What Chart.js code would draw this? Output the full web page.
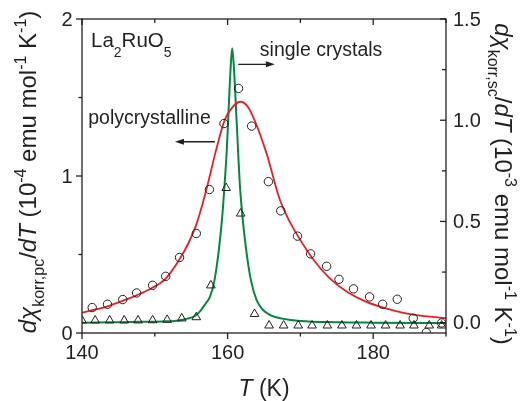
<!DOCTYPE html>
<html><head><meta charset="utf-8">
<script src="https://cdn.jsdelivr.net/npm/chart.js@4/dist/chart.umd.min.js"></script>
<style>html,body{margin:0;padding:0;background:#fff}#wrap{width:523px;height:401px}</style>
</head><body><div id="wrap"><canvas id="c" width="523" height="401"></canvas></div>
<script>
// ---- data ----
// polycrystalline (circles, left axis, 10^-4 emu mol^-1 K^-1)
const polyT = [141.4, 143.5, 145.6, 147.5, 149.7, 151.5, 153.4, 155.7, 157.5, 159.5, 161.5, 163.3, 165.6, 167.3, 169.6, 171.4, 173.6, 175.3, 177.3, 179.5, 181.3, 183.3, 185.5, 187.3, 189.4];
const polyV = [0.162, 0.183, 0.213, 0.255, 0.304, 0.361, 0.481, 0.634, 0.914, 1.334, 1.558, 1.318, 0.964, 0.778, 0.617, 0.504, 0.425, 0.342, 0.281, 0.230, 0.183, 0.215, 0.094, 0.003, 0.064];
// single crystals (triangles, right axis, 10^-3 emu mol^-1 K^-1)
const scT = [140.0, 141.8, 143.8, 145.8, 147.7, 149.7, 151.7, 153.7, 155.7, 157.7, 159.8, 161.8, 163.7, 165.7, 167.7, 169.7, 171.6, 173.7, 175.7, 177.7, 179.7, 181.7, 183.7, 185.6, 187.7, 189.4];
const scV = [0.011, 0.011, 0.011, 0.011, 0.011, 0.012, 0.014, 0.021, 0.027, 0.184, 0.665, 0.539, 0.043, -0.014, -0.014, -0.014, -0.014, -0.014, -0.014, -0.014, -0.014, -0.014, -0.014, -0.014, -0.014, -0.014];
// red fit curve (left axis)
const redT = [140, 141.4, 143.5, 145.6, 147.5, 149.6, 151.5, 153.4, 154.6, 155.7, 156.7, 157.5, 158.3, 159.6, 160.7, 161.8, 162.8, 163.7, 165.35, 167.1, 168.2, 169.5, 171.75, 174, 176.5, 179, 181.5, 184, 186.5, 190];
const redV = [0.13, 0.145, 0.17, 0.205, 0.24, 0.287, 0.347, 0.47, 0.57, 0.69, 0.846, 0.99, 1.144, 1.356, 1.44, 1.473, 1.44, 1.356, 1.144, 0.86, 0.74, 0.63, 0.47, 0.35, 0.26, 0.20, 0.16, 0.13, 0.11, 0.095];
// green fit curve (right axis)
const greenT = [140, 144, 148, 151, 153, 154.5, 155.5, 156.3, 156.9, 157.6, 158.2, 158.8, 159.3, 159.6, 159.9, 160.2, 160.45, 160.63, 160.85, 161.1, 161.45, 161.65, 162.0, 162.5, 163.2, 164.0, 164.8, 166.0, 167.5, 170, 175, 180, 190];
const greenV = [0.0, 0.002, 0.004, 0.006, 0.01, 0.02, 0.033, 0.06, 0.09, 0.13, 0.21, 0.36, 0.54, 0.69, 0.86, 1.10, 1.28, 1.355, 1.27, 1.10, 0.84, 0.70, 0.54, 0.375, 0.21, 0.11, 0.065, 0.035, 0.02, 0.008, 0.002, 0.0, -0.002];
// ticks
const xTicks = [140, 160, 180];
const xMinor = [150, 170, 190];
const leftTicks = [0, 1, 2];
const leftMinor = [0.5, 1.5];
const rightTicks = [0.0, 0.5, 1.0, 1.5];
const rightMinor = [0.25, 0.75, 1.25];

const INK = '#231f20';
const FAM = '"Liberation Sans", Arial, Helvetica, sans-serif';
const pts = (xs, ys) => xs.map((x, i) => ({x: x, y: ys[i]}));

function drawRich(ctx, segs, x, y, rot, align, st) {
  ctx.save();
  ctx.translate(x, y);
  ctx.rotate(rot);
  ctx.fillStyle = INK;
  ctx.textBaseline = 'alphabetic';
  ctx.textAlign = 'left';
  const fontFor = s => (s.i ? 'italic ' : '') + ((s.sub || s.sup) ? st.small : st.size) + 'px ' + FAM;
  let total = 0;
  segs.forEach(s => { ctx.font = fontFor(s); s.w = ctx.measureText(s.t).width; total += s.w; });
  let cx = align === 'center' ? -total / 2 : 0;
  segs.forEach(s => {
    ctx.font = fontFor(s);
    const dy = s.sub ? st.subShift : (s.sup ? -st.supShift : 0);
    ctx.fillText(s.t, cx, dy);
    cx += s.w;
  });
  ctx.restore();
}

function arrow(ctx, x1, y1, x2, y2) {
  ctx.save();
  ctx.strokeStyle = INK; ctx.fillStyle = INK; ctx.lineWidth = 1.3;
  const dir = Math.sign(x2 - x1);
  ctx.beginPath(); ctx.moveTo(x1, y1); ctx.lineTo(x2 - dir * 6, y2); ctx.stroke();
  ctx.beginPath(); ctx.moveTo(x2, y2); ctx.lineTo(x2 - dir * 9, y2 - 3); ctx.lineTo(x2 - dir * 9, y2 + 3); ctx.closePath(); ctx.fill();
  ctx.restore();
}

const decor = {
  id: 'decor',
  afterDraw(chart, args, o) {
    const {ctx, chartArea: a, scales} = chart;
    const sx = scales.x, yl = scales.yL, yr = scales.yR;
    ctx.save();
    ctx.strokeStyle = INK; ctx.lineWidth = 1.3;
    ctx.strokeRect(a.left, a.top, a.right - a.left, a.bottom - a.top);
    const seg = (x1, y1, x2, y2) => { ctx.beginPath(); ctx.moveTo(x1, y1); ctx.lineTo(x2, y2); ctx.stroke(); };
    xTicks.forEach(v => { const p = sx.getPixelForValue(v); seg(p, a.bottom, p, a.bottom + 6); seg(p, a.top, p, a.top + 6); });
    xMinor.forEach(v => { const p = sx.getPixelForValue(v); seg(p, a.bottom, p, a.bottom + 3.5); seg(p, a.top, p, a.top + 4); });
    leftTicks.forEach(v => { const p = yl.getPixelForValue(v); seg(a.left - 6, p, a.left, p); });
    leftMinor.forEach(v => { const p = yl.getPixelForValue(v); seg(a.left - 3.5, p, a.left, p); });
    rightTicks.forEach(v => { const p = yr.getPixelForValue(v); seg(a.right - 6, p, a.right, p); });
    rightMinor.forEach(v => { const p = yr.getPixelForValue(v); seg(a.right - 4, p, a.right, p); });
    // tick labels
    ctx.fillStyle = INK;
    ctx.font = '20px ' + FAM;
    ctx.textBaseline = 'middle';
    ctx.textAlign = 'center';
    xTicks.forEach(v => ctx.fillText(String(v), sx.getPixelForValue(v), a.bottom + 20));
    ctx.textAlign = 'right';
    leftTicks.forEach(v => ctx.fillText(String(v), a.left - 9.5, yl.getPixelForValue(v) + 1));
    ctx.textAlign = 'left';
    rightTicks.forEach(v => ctx.fillText(v.toFixed(1), a.right + 7, yr.getPixelForValue(v) + 1));
    ctx.restore();

    // axis titles
    drawRich(ctx, [{t: 'T', i: 1}, {t: ' (K)'}], (a.left + a.right) / 2, 396, 0, 'center', {size: 23, small: 16, subShift: 0, supShift: 0});
    drawRich(ctx, [{t: 'd', i: 1}, {t: 'χ', i: 1}, {t: 'korr,pc', sub: 1}, {t: '/'}, {t: 'dT', i: 1}, {t: ' (10'}, {t: '-4', sup: 1}, {t: ' emu mol'}, {t: '-1', sup: 1}, {t: ' K'}, {t: '-1', sup: 1}, {t: ')'}],
      36, 172, -Math.PI / 2, 'center', {size: 24, small: 16, subShift: 8, supShift: 10});
    drawRich(ctx, [{t: 'd', i: 1}, {t: 'χ', i: 1}, {t: 'korr,sc', sub: 1}, {t: '/'}, {t: 'dT', i: 1}, {t: ' (10'}, {t: '-3', sup: 1}, {t: ' emu mol'}, {t: '-1', sup: 1}, {t: ' K'}, {t: '-1', sup: 1}, {t: ')'}],
      495, 184, Math.PI / 2, 'center', {size: 24, small: 16, subShift: 7, supShift: 10});

    // annotations anchored in data coordinates
    const X = v => sx.getPixelForValue(v), YL = v => yl.getPixelForValue(v);
    drawRich(ctx, [{t: 'La'}, {t: '2', sub: 1}, {t: 'RuO'}, {t: '5', sub: 1}], X(o.formula.x), YL(o.formula.y), 0, 'left', {size: 20.5, small: 14, subShift: 10, supShift: 0});
    drawRich(ctx, [{t: 'single crystals'}], X(o.sc.x), YL(o.sc.y), 0, 'left', {size: 19.5, small: 14, subShift: 0, supShift: 0});
    drawRich(ctx, [{t: 'polycrystalline'}], X(o.pc.x), YL(o.pc.y), 0, 'left', {size: 19.5, small: 14, subShift: 0, supShift: 0});
    arrow(ctx, X(o.pcArrow.from), YL(o.pcArrow.y), X(o.pcArrow.to), YL(o.pcArrow.y));
    arrow(ctx, X(o.scArrow.from), YL(o.scArrow.y), X(o.scArrow.to), YL(o.scArrow.y));
  }
};

new Chart(document.getElementById('c'), {
  type: 'scatter',
  data: {
    datasets: [
      {label: 'pc fit', data: pts(redT, redV), yAxisID: 'yL', showLine: true, borderColor: '#ee1d23', borderWidth: 1.8, pointRadius: 0, cubicInterpolationMode: 'monotone', order: 3},
      {label: 'sc fit', data: pts(greenT, greenV), yAxisID: 'yR', showLine: true, borderColor: '#00893f', borderWidth: 2, pointRadius: 0, cubicInterpolationMode: 'monotone', order: 4},
      {label: 'polycrystalline', data: pts(polyT, polyV), yAxisID: 'yL', showLine: false, pointStyle: 'circle', pointRadius: 4.2, borderColor: INK, borderWidth: 1, backgroundColor: 'rgba(0,0,0,0)', order: 1},
      {label: 'single crystals', data: pts(scT, scV), yAxisID: 'yR', showLine: false, pointStyle: 'triangle', pointRadius: 5, borderColor: INK, borderWidth: 1, backgroundColor: 'rgba(0,0,0,0)', order: 2}
    ]
  },
  options: {
    responsive: false,
    devicePixelRatio: 1,
    animation: false,
    layout: {padding: {top: 19, left: 0, right: 0, bottom: 0}},
    plugins: {
      legend: {display: false},
      tooltip: {enabled: false},
      decor: {
        formula: {x: 141.24, y: 1.823},
        sc: {x: 164.43, y: 1.764},
        pc: {x: 140.86, y: 1.334},
        pcArrow: {from: 158.26, to: 152.77, y: 1.218},
        scArrow: {from: 161.46, to: 166.49, y: 1.711}
      }
    },
    scales: {
      x: {type: 'linear', position: 'bottom', min: 140, max: 190, grid: {display: false}, border: {display: false}, ticks: {display: false},
          afterFit: s => { s.height = 68; }},
      yL: {type: 'linear', position: 'left', min: 0, max: 2, grid: {display: false}, border: {display: false}, ticks: {display: false},
          afterFit: s => { s.width = 82; }},
      yR: {type: 'linear', position: 'right', min: -0.051, max: 1.5, grid: {display: false}, border: {display: false}, ticks: {display: false},
          afterFit: s => { s.width = 77; }}
    }
  },
  plugins: [decor]
});
</script>
</body></html>
